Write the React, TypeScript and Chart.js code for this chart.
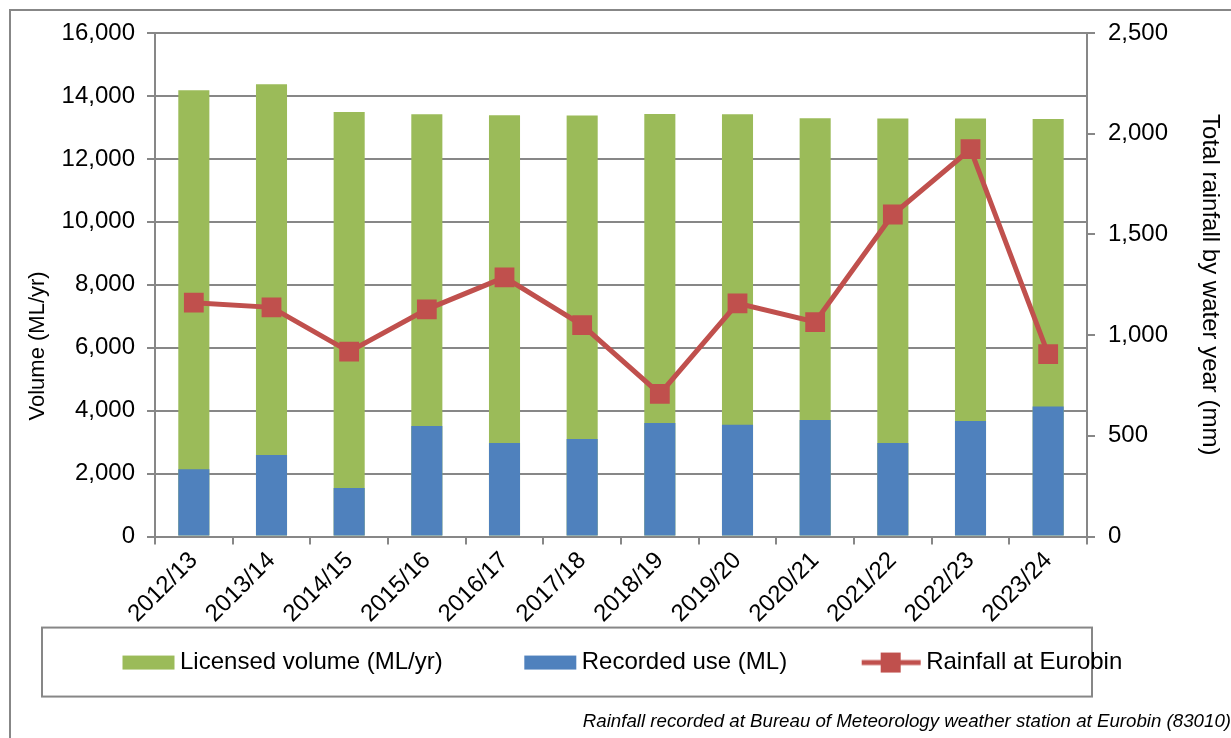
import React, { useEffect, useRef } from 'react';
import { Chart, registerables } from 'chart.js';

Chart.register(...registerables);

const categories = ['2012/13', '2013/14', '2014/15', '2015/16', '2016/17', '2017/18', '2018/19', '2019/20', '2020/21', '2021/22', '2022/23', '2023/24'];
const licensedVolume = [14180, 14370, 13490, 13420, 13390, 13380, 13430, 13420, 13290, 13280, 13280, 13270];
const recordedUse = [2140, 2590, 1540, 3510, 2970, 3100, 3610, 3550, 3700, 2970, 3670, 4130];
const rainfall = [1161, 1138, 918, 1128, 1287, 1050, 708, 1158, 1065, 1599, 1923, 906];

const volumeAxis = { min: 0, max: 16000, step: 2000 };
const rainfallAxis = { min: 0, max: 2500, step: 500 };

const seriesNames = ['Licensed volume (ML/yr)', 'Recorded use (ML)', 'Rainfall at Eurobin'];
const leftTitle = 'Volume (ML/yr)';
const rightTitle = 'Total rainfall by water year (mm)';
const footnote = 'Rainfall recorded at Bureau of Meteorology weather station at Eurobin (83010)';

const GREEN = '#9BBB59';
const BLUE = '#4F81BD';
const RED = '#C0504D';
const GRID = '#878787';
const FONT = "'Liberation Sans', Arial, Helvetica, sans-serif";

function makeIcon(kind: 'box' | 'line', color: string): HTMLCanvasElement {
  const c = document.createElement('canvas');
  c.width = 118;
  c.height = 24;
  const ctx = c.getContext('2d')!;
  ctx.fillStyle = color;
  if (kind === 'box') {
    ctx.fillRect(65, 5, 52, 14);
  } else {
    ctx.fillRect(58, 9.5, 59, 5);
    ctx.fillRect(77, 2, 20, 20);
  }
  return c;
}

const framePlugin = {
  id: 'frame',
  beforeDraw(chart: any) {
    const { ctx } = chart;
    ctx.save();
    ctx.fillStyle = '#ffffff';
    ctx.fillRect(0, 0, chart.width, chart.height);
    ctx.strokeStyle = GRID;
    ctx.lineWidth = 2;
    ctx.beginPath();
    ctx.moveTo(10, chart.height);
    ctx.lineTo(10, 10);
    ctx.lineTo(chart.width, 10);
    ctx.stroke();
    const lg = chart.legend;
    if (lg) {
      ctx.strokeRect(lg.left + 1, lg.top + 1, chart.chartArea.right + 5 - lg.left - 1, 69);
    }
    ctx.restore();
  },
};

export default function App() {
  const ref = useRef<HTMLCanvasElement | null>(null);

  useEffect(() => {
    if (!ref.current) return;
    Chart.defaults.font.family = FONT;
    Chart.defaults.color = '#000000';
    const icons = [makeIcon('box', GREEN), makeIcon('box', BLUE), makeIcon('line', RED)];
    const fmt = (v: any) => Number(v).toLocaleString('en-US');
    // trailing spaces shift the rotated, centred title towards the bottom as in the reference
    const leftTitlePadded = leftTitle + ' '.repeat(20);

    const chart = new Chart(ref.current, {
      data: {
        labels: categories,
        datasets: [
          {
            type: 'bar',
            label: seriesNames[0],
            data: licensedVolume,
            backgroundColor: GREEN,
            borderWidth: 0,
            grouped: false,
            barPercentage: 0.4,
            categoryPercentage: 1,
            yAxisID: 'y',
            order: 2,
          },
          {
            type: 'bar',
            label: seriesNames[1],
            data: recordedUse,
            backgroundColor: BLUE,
            borderWidth: 0,
            grouped: false,
            barPercentage: 0.4,
            categoryPercentage: 1,
            yAxisID: 'y',
            order: 1,
          },
          {
            type: 'line',
            label: seriesNames[2],
            data: rainfall,
            borderColor: RED,
            backgroundColor: RED,
            borderWidth: 5,
            pointStyle: 'rect',
            pointRadius: 14,
            pointBackgroundColor: RED,
            pointBorderColor: RED,
            pointBorderWidth: 0,
            tension: 0,
            fill: false,
            yAxisID: 'y1',
            order: 0,
          },
        ] as any,
      },
      options: {
        responsive: false,
        animation: false,
        devicePixelRatio: 1,
        layout: { padding: { left: 41, top: 33, right: 0, bottom: 0 } },
        plugins: {
          legend: {
            display: true,
            position: 'bottom',
            align: 'start',
            labels: {
              usePointStyle: true,
              pointStyleWidth: 103,
              boxHeight: 24,
              padding: 24,
              font: { size: 24, family: FONT },
              color: '#000000',
              generateLabels: (c: any) => {
                const items = (Chart.defaults as any).plugins.legend.labels.generateLabels(c);
                return items
                  .map((it: any) => ({ ...it, pointStyle: icons[it.datasetIndex] }))
                  .sort((a: any, b: any) => a.datasetIndex - b.datasetIndex);
              },
            },
          },
          subtitle: {
            display: true,
            position: 'bottom',
            align: 'end',
            text: footnote,
            color: '#000000',
            font: { size: 18.7, style: 'italic', family: FONT, weight: 'normal' },
            padding: { top: 26, bottom: 5 },
          },
          tooltip: { enabled: false },
        },
        scales: {
          x: {
            grid: { display: true, drawOnChartArea: false, offset: true, tickLength: 8, color: GRID, lineWidth: 2 },
            border: { display: true, color: GRID, width: 2 },
            ticks: { font: { size: 24 }, color: '#000000', maxRotation: 45, minRotation: 45, autoSkip: false, padding: 2 },
            afterFit: (s: any) => { s.height = 90; },
          },
          y: {
            position: 'left',
            min: volumeAxis.min,
            max: volumeAxis.max,
            ticks: { stepSize: volumeAxis.step, callback: fmt, font: { size: 24 }, color: '#000000', padding: 12 },
            grid: { color: GRID, lineWidth: 2, tickLength: 8 },
            border: { display: true, color: GRID, width: 2 },
            title: { display: true, text: leftTitlePadded, font: { size: 22 }, color: '#000000', padding: { top: -16, bottom: 0 } },
            afterFit: (s: any) => { s.width = 114; },
          },
          y1: {
            position: 'right',
            min: rainfallAxis.min,
            max: rainfallAxis.max,
            ticks: { stepSize: rainfallAxis.step, callback: fmt, font: { size: 24 }, color: '#000000', padding: 13 },
            grid: { drawOnChartArea: false, color: GRID, lineWidth: 2, tickLength: 8 },
            border: { display: true, color: GRID, width: 2 },
            title: { display: true, text: rightTitle, font: { size: 24 }, color: '#000000', padding: { top: 6.6, bottom: 0 } },
            afterFit: (s: any) => { s.width = 144; },
          },
        },
      } as any,
      plugins: [framePlugin],
    });
    return () => chart.destroy();
  }, []);

  return (
    <div style={{ position: 'absolute', left: 0, top: 0, width: 1231, height: 738, background: '#fff' }}>
      <canvas ref={ref} width={1231} height={738} style={{ display: 'block', width: 1231, height: 738 }} />
    </div>
  );
}
